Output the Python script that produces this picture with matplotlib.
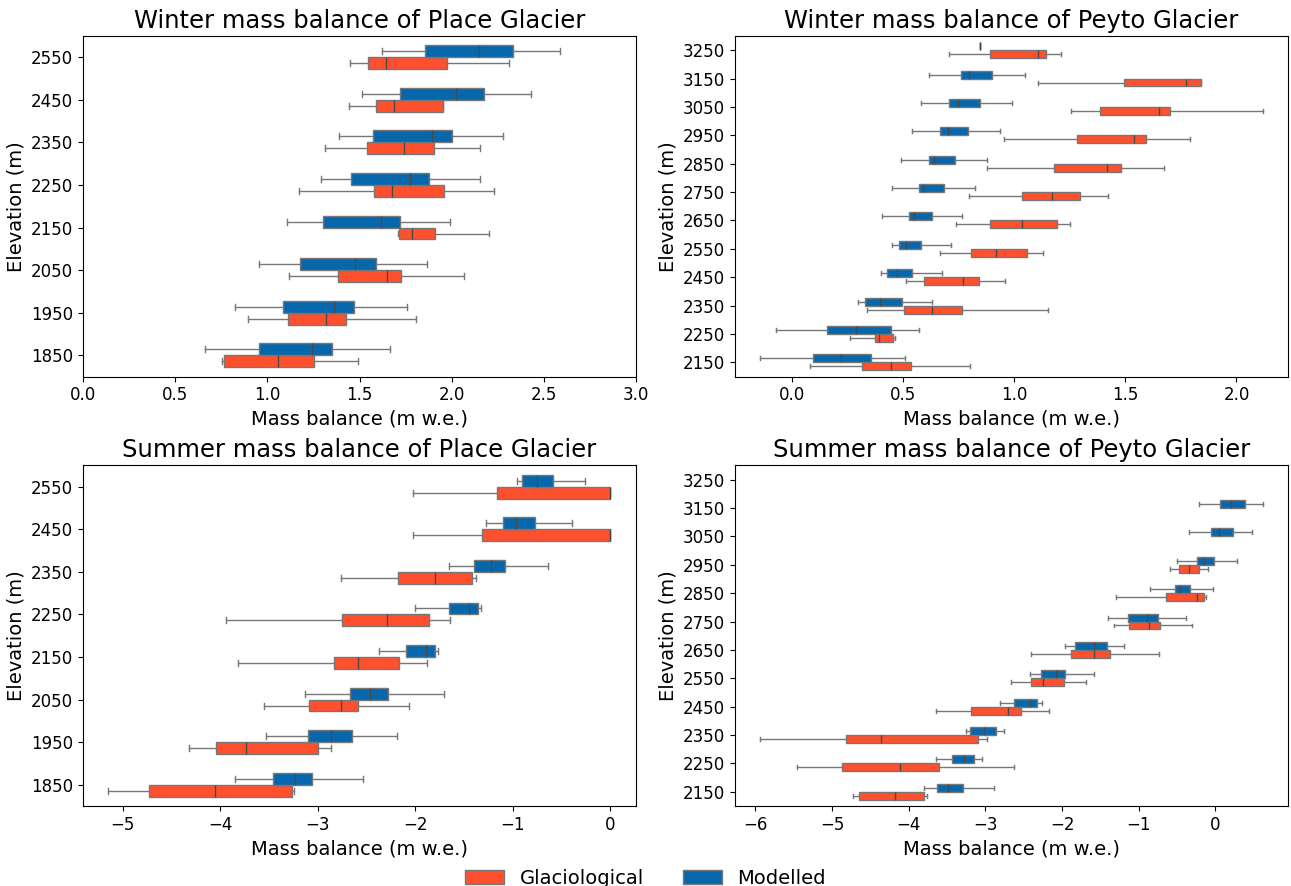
import matplotlib.pyplot as plt
from matplotlib.patches import Patch

# elevation bands (m)
place_elev = [1850, 1950, 2050, 2150, 2250, 2350, 2450, 2550]
peyto_elev = [2150, 2250, 2350, 2450, 2550, 2650, 2750, 2850, 2950, 3050, 3150, 3250]

# box stats per band: [whisker low, q1, median, q3, whisker high]  (m w.e.)
place_winter_glac = [
    [0.754, 0.767, 1.058, 1.251, 1.490],
    [0.894, 1.110, 1.317, 1.425, 1.805],
    [1.116, 1.384, 1.648, 1.724, 2.068],
    [1.711, 1.715, 1.783, 1.909, 2.201],
    [1.170, 1.578, 1.675, 1.958, 2.228],
    [1.312, 1.542, 1.744, 1.904, 2.152],
    [1.445, 1.587, 1.686, 1.951, 1.951],
    [1.447, 1.544, 1.641, 1.974, 2.309],
]
place_winter_mod = [
    [0.662, 0.952, 1.240, 1.353, 1.666],
    [0.826, 1.083, 1.362, 1.472, 1.758],
    [0.952, 1.177, 1.476, 1.587, 1.866],
    [1.107, 1.303, 1.614, 1.720, 1.990],
    [1.292, 1.452, 1.774, 1.879, 2.152],
    [1.386, 1.573, 1.893, 1.999, 2.276],
    [1.512, 1.722, 2.023, 2.176, 2.431],
    [1.620, 1.857, 2.149, 2.334, 2.588],
]
peyto_winter_glac = [
    [0.083, 0.317, 0.448, 0.536, 0.802],
    [0.262, 0.376, 0.393, 0.457, 0.463],
    [0.337, 0.503, 0.630, 0.767, 1.152],
    [0.512, 0.592, 0.771, 0.842, 0.960],
    [0.664, 0.806, 0.916, 1.058, 1.130],
    [0.739, 0.892, 1.036, 1.194, 1.250],
    [0.798, 1.036, 1.169, 1.294, 1.421],
    [0.877, 1.178, 1.418, 1.480, 1.672],
    [0.955, 1.283, 1.541, 1.591, 1.790],
    [1.257, 1.388, 1.650, 1.701, 2.120],
    [1.108, 1.493, 1.771, 1.841, 1.841],
    [0.708, 0.892, 1.106, 1.141, 1.209],
]
peyto_winter_mod = [
    [-0.142, 0.096, 0.223, 0.356, 0.511],
    [-0.070, 0.159, 0.288, 0.448, 0.570],
    [0.299, 0.330, 0.398, 0.494, 0.630],
    [0.402, 0.426, 0.474, 0.540, 0.675],
    [0.450, 0.481, 0.512, 0.581, 0.715],
    [0.404, 0.527, 0.549, 0.630, 0.765],
    [0.452, 0.570, 0.590, 0.686, 0.822],
    [0.490, 0.618, 0.641, 0.734, 0.876],
    [0.538, 0.665, 0.702, 0.793, 0.938],
    [0.579, 0.708, 0.747, 0.844, 0.988],
    [0.616, 0.759, 0.796, 0.901, 1.049],
    [0.844, 0.844, 0.844, 0.844, 0.844],
]
place_summer_glac = [
    [-5.149, -4.732, -4.050, -3.258, -3.241],
    [-4.319, -4.046, -3.739, -2.994, -2.858],
    [-3.548, -3.088, -2.756, -2.581, -2.066],
    [-3.812, -2.836, -2.581, -2.164, -1.882],
    [-3.940, -2.747, -2.291, -1.861, -1.640],
    [-2.764, -2.176, -1.793, -1.414, -1.380],
    [-2.019, -1.320, 0.0, 0.0, 0.0],
    [-2.019, -1.163, 0.0, 0.0, 0.0],
]
place_summer_mod = [
    [-3.850, -3.458, -3.237, -3.054, -2.534],
    [-3.526, -3.096, -2.866, -2.649, -2.185],
    [-3.130, -2.666, -2.462, -2.283, -1.704],
    [-2.372, -2.095, -1.891, -1.793, -1.767],
    [-2.002, -1.657, -1.448, -1.354, -1.325],
    [-1.652, -1.401, -1.218, -1.078, -0.643],
    [-1.269, -1.099, -0.963, -0.771, -0.392],
    [-0.954, -0.903, -0.750, -0.588, -0.260],
]
peyto_summer_glac = [
    [-4.733, -4.653, -4.183, -3.803, -3.766],
    [-5.454, -4.872, -4.119, -3.606, -2.628],
    [-5.935, -4.818, -4.364, -3.093, -2.981],
    [-3.643, -3.189, -2.703, -2.532, -2.174],
    [-2.671, -2.404, -2.249, -1.971, -1.688],
    [-2.409, -1.880, -1.581, -1.378, -0.743],
    [-1.319, -1.132, -0.871, -0.721, -0.310],
    [-1.303, -0.641, -0.240, -0.150, -0.123],
    [-0.588, -0.470, -0.347, -0.219, -0.101],
    None,
    None,
    None,
]
peyto_summer_mod = [
    [-3.803, -3.627, -3.494, -3.296, -2.895],
    [-3.643, -3.435, -3.275, -3.152, -3.040],
    [-3.259, -3.205, -3.013, -2.858, -2.762],
    [-2.810, -2.623, -2.425, -2.334, -2.265],
    [-2.425, -2.270, -2.083, -1.960, -1.587],
    [-1.960, -1.832, -1.581, -1.410, -1.197],
    [-1.405, -1.138, -0.892, -0.748, -0.379],
    [-0.849, -0.534, -0.459, -0.326, -0.032],
    [-0.502, -0.235, -0.150, -0.021, 0.278],
    [-0.342, -0.059, 0.043, 0.224, 0.481],
    [-0.214, 0.053, 0.203, 0.385, 0.625],
    None,
]

glac_color = '#ff502d'
mod_color = '#0767ad'
line_color = '#777777'


def draw_boxes(ax, stats_list, offset, color):
    stats, pos = [], []
    for i, s in enumerate(stats_list):
        if s is None:
            continue
        stats.append({'whislo': s[0], 'q1': s[1], 'med': s[2], 'q3': s[3], 'whishi': s[4], 'fliers': []})
        pos.append(i + offset)
    ax.bxp(stats, positions=pos, widths=0.28, orientation='horizontal', patch_artist=True,
           showfliers=False, manage_ticks=False,
           boxprops=dict(facecolor=color, edgecolor=line_color, linewidth=1),
           medianprops=dict(color='#4a4a4a', linewidth=1),
           whiskerprops=dict(color=line_color, linewidth=1),
           capprops=dict(color=line_color, linewidth=1))


panels = [
    ('Winter mass balance of Place Glacier', place_elev, place_winter_glac, place_winter_mod, (0, 3)),
    ('Winter mass balance of Peyto Glacier', peyto_elev, peyto_winter_glac, peyto_winter_mod, (-0.256, 2.232)),
    ('Summer mass balance of Place Glacier', place_elev, place_summer_glac, place_summer_mod, (-5.405, 0.264)),
    ('Summer mass balance of Peyto Glacier', peyto_elev, peyto_summer_glac, peyto_summer_mod, (-6.266, 0.946)),
]

fig, axes = plt.subplots(2, 2, figsize=(12.91, 8.86), dpi=100)
plt.subplots_adjust(left=0.0643, right=0.9977, top=0.9594, bottom=0.0903, wspace=0.179, hspace=0.261)

for ax, (title, elev, glac, mod, xlim) in zip(axes.flat, panels):
    draw_boxes(ax, glac, -0.14, glac_color)
    draw_boxes(ax, mod, 0.14, mod_color)
    ax.set_yticks(range(len(elev)))
    ax.set_yticklabels([str(e) for e in elev])
    ax.set_ylim(-0.5, len(elev) - 0.5)
    ax.set_xlim(*xlim)
    ax.set_title(title, fontsize=17.5)
    ax.set_xlabel('Mass balance (m w.e.)', fontsize=14)
    ax.set_ylabel('Elevation (m)', fontsize=14)
    ax.tick_params(labelsize=12)

handles = [Patch(facecolor=glac_color, edgecolor=line_color, label='Glaciological'),
           Patch(facecolor=mod_color, edgecolor=line_color, label='Modelled')]
fig.legend(handles=handles, loc='lower center', ncol=2, frameon=False, fontsize=14,
           bbox_to_anchor=(0.5, -0.022))

plt.savefig('out.png', dpi=100)
